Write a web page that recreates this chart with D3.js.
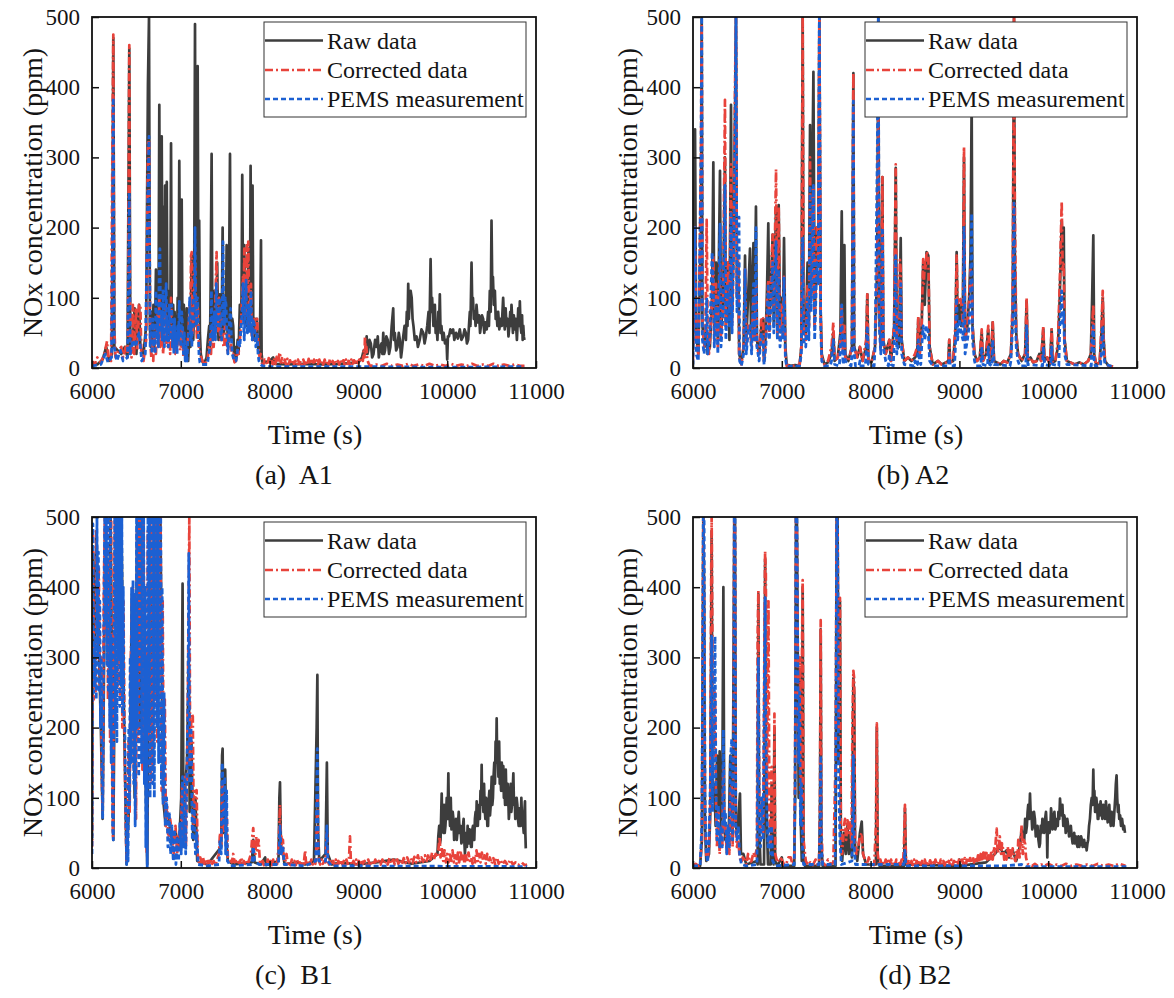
<!DOCTYPE html>
<html><head><meta charset="utf-8">
<script src="https://cdn.jsdelivr.net/npm/d3@7"></script>
<style>
body{margin:0;background:#fff}
text{font-family:"Liberation Serif","Times New Roman",serif;fill:#141414}
</style>
</head><body>
<svg id="chart" width="1174" height="998"></svg>
<script>
const xTicks=[6000,7000,8000,9000,10000,11000];
const yTicks=[0,100,200,300,400,500];
const seriesNames=["Raw data","Corrected data","PEMS measurement"];
const panelLabels=["(a)  A1","(b) A2","(c)  B1","(d) B2"];
const xTitle="Time (s)";
const yTitle="NOx concentration (ppm)";

// ---------- A1 ----------
const a1Raw=[[6000,8],[6060,5],[6120,12],[6160,30],[6190,10],[6225,20],[6240,470],[6252,30],[6290,25],[6330,20],[6370,30],[6400,15],[6420,455],[6432,20],[6460,40],[6480,85],[6500,20],[6530,90],[6545,30],[6580,20],[6610,60],[6630,405],[6642,500],[6652,60],[6662,30],[6672,80],[6682,40],[6692,90],[6702,30],[6712,70],[6720,140],[6728,50],[6738,90],[6748,40],[6758,375],[6766,90],[6774,50],[6785,330],[6795,60],[6803,100],[6810,230],[6817,70],[6823,260],[6833,80],[6842,265],[6850,60],[6858,90],[6866,40],[6875,110],[6882,60],[6890,320],[6898,70],[6906,40],[6914,90],[6922,50],[6930,80],[6940,40],[6948,70],[6956,30],[6965,100],[6974,60],[6983,295],[6992,80],[7000,50],[7010,240],[7018,60],[7026,30],[7034,90],[7042,40],[7050,70],[7058,20],[7067,85],[7075,30],[7083,10],[7092,40],[7100,60],[7108,30],[7115,100],[7123,160],[7130,70],[7140,40],[7150,90],[7160,490],[7168,80],[7176,60],[7183,120],[7190,430],[7198,90],[7207,210],[7215,50],[7225,20],[7240,10],[7260,5],[7290,15],[7305,40],[7320,60],[7328,30],[7335,100],[7347,305],[7355,70],[7363,40],[7372,90],[7380,110],[7388,50],[7395,80],[7403,60],[7410,150],[7418,70],[7425,40],[7433,90],[7440,105],[7448,60],[7455,40],[7463,90],[7471,200],[7478,70],[7486,50],[7493,90],[7500,100],[7508,60],[7516,175],[7524,60],[7532,30],[7540,70],[7554,305],[7562,80],[7570,40],[7580,70],[7590,60],[7600,20],[7610,30],[7620,10],[7630,20],[7640,40],[7650,20],[7665,90],[7675,60],[7684,100],[7692,275],[7700,120],[7708,70],[7715,175],[7722,90],[7730,60],[7740,100],[7750,60],[7760,170],[7768,90],[7778,60],[7786,288],[7794,100],[7802,70],[7808,260],[7816,60],[7825,40],[7835,70],[7845,50],[7855,70],[7862,40],[7870,30],[7880,20],[7890,40],[7897,100],[7903,182],[7910,20],[7920,8],[7940,8],[8000,10],[8040,15],[8060,6],[8200,5],[8400,6],[8600,5],[8800,6],[9000,8],[9040,15],[9060,25],[9080,20],[9093,45],[9102,20],[9110,25],[9125,40],[9140,35],[9155,15],[9170,20],[9188,40],[9205,30],[9218,45],[9230,15],[9245,30],[9260,35],[9270,20],[9280,50],[9290,20],[9300,25],[9315,45],[9330,40],[9345,20],[9360,30],[9375,60],[9392,85],[9400,40],[9410,50],[9425,25],[9440,30],[9455,50],[9467,40],[9480,15],[9490,25],[9505,45],[9520,60],[9535,40],[9545,80],[9553,60],[9561,120],[9568,70],[9575,90],[9588,110],[9600,100],[9610,70],[9620,60],[9635,40],[9655,45],[9670,30],[9690,40],[9710,55],[9730,50],[9745,35],[9760,45],[9775,60],[9790,80],[9800,50],[9813,155],[9822,80],[9830,100],[9845,60],[9861,90],[9870,50],[9880,60],[9890,40],[9900,80],[9908,60],[9917,105],[9925,50],[9935,60],[9948,40],[9960,50],[9975,35],[9992,40],[10000,12],[10008,45],[10020,45],[10035,55],[10050,50],[10067,55],[10080,40],[10100,50],[10120,42],[10142,55],[10160,40],[10180,45],[10195,55],[10210,50],[10222,35],[10236,40],[10245,60],[10255,80],[10262,60],[10274,150],[10282,90],[10290,100],[10300,70],[10310,80],[10320,60],[10330,90],[10345,65],[10360,75],[10370,50],[10380,60],[10392,75],[10405,70],[10418,50],[10430,65],[10445,55],[10461,80],[10470,60],[10480,110],[10490,80],[10499,210],[10507,120],[10515,130],[10525,90],[10537,110],[10546,70],[10555,80],[10565,60],[10574,80],[10587,55],[10600,70],[10615,60],[10630,100],[10640,70],[10648,55],[10658,85],[10668,60],[10680,70],[10690,45],[10700,60],[10710,80],[10717,60],[10724,90],[10732,70],[10740,50],[10750,75],[10762,55],[10772,70],[10785,40],[10792,60],[10800,85],[10810,60],[10818,95],[10826,60],[10835,50],[10843,75],[10850,40],[10857,60],[10863,45],[10870,40]];
const a1Corr=[[6000,10],[6030,5],[6060,15],[6100,8],[6140,20],[6169,38],[6185,15],[6215,10],[6232,360],[6240,475],[6250,60],[6265,15],[6300,25],[6330,30],[6350,15],[6380,30],[6405,20],[6414,300],[6420,460],[6428,40],[6445,15],[6460,90],[6475,20],[6495,85],[6510,25],[6530,90],[6545,90],[6555,20],[6580,10],[6610,40],[6630,320],[6642,325],[6655,40],[6668,15],[6680,30],[6690,10],[6700,60],[6710,25],[6720,20],[6730,50],[6740,80],[6750,30],[6758,100],[6770,30],[6780,50],[6790,70],[6800,20],[6810,40],[6820,60],[6830,90],[6840,30],[6850,30],[6860,50],[6870,60],[6880,20],[6890,100],[6900,40],[6910,30],[6920,60],[6930,50],[6940,20],[6950,20],[6965,45],[6983,60],[6992,25],[7000,30],[7010,55],[7020,50],[7030,15],[7040,20],[7050,30],[7060,15],[7070,25],[7080,40],[7090,60],[7100,90],[7108,50],[7115,160],[7123,165],[7135,50],[7145,80],[7160,150],[7168,70],[7175,60],[7183,40],[7190,90],[7205,30],[7230,15],[7260,5],[7300,10],[7315,30],[7330,40],[7340,20],[7350,60],[7360,30],[7370,30],[7380,60],[7390,100],[7403,165],[7410,60],[7415,80],[7422,50],[7430,100],[7438,60],[7445,40],[7458,70],[7470,60],[7480,30],[7490,30],[7500,60],[7510,50],[7520,30],[7530,20],[7545,50],[7560,40],[7575,20],[7590,20],[7605,8],[7620,10],[7635,25],[7650,20],[7665,40],[7680,70],[7690,100],[7700,130],[7708,90],[7715,170],[7722,70],[7730,80],[7738,120],[7745,175],[7752,110],[7760,180],[7768,90],[7775,60],[7782,100],[7790,120],[7798,50],[7805,40],[7818,60],[7830,70],[7845,50],[7860,70],[7868,40],[7875,30],[7888,15],[7900,20],[7915,6],[7930,5],[7945,12],[7960,10],[7975,4],[7990,14],[8005,6],[8020,12],[8035,5],[8050,14],[8065,6],[8080,16],[8095,7],[8110,20],[8117,22],[8125,8],[8140,14],[8155,6],[8170,12],[8185,5],[8200,13],[8215,6],[8230,11],[8245,5],[8260,12],[8275,6],[8290,10],[8305,4],[8320,12],[8335,6],[8350,10],[8365,5],[8380,12],[8395,6],[8410,11],[8425,5],[8440,13],[8455,6],[8470,10],[8485,5],[8500,12],[8515,6],[8530,11],[8545,5],[8560,12],[8575,6],[8590,10],[8605,5],[8620,12],[8635,6],[8650,11],[8665,5],[8680,13],[8695,6],[8710,10],[8725,5],[8740,12],[8755,6],[8770,10],[8785,5],[8800,12],[8815,6],[8830,11],[8845,5],[8860,12],[8875,6],[8890,10],[8905,5],[8920,12],[8935,6],[8950,11],[8965,5],[8980,13],[8995,7],[9010,12],[9025,8],[9040,15],[9050,10],[9060,25],[9068,15],[9074,45],[9082,20],[9090,30],[9100,12],[9110,8],[9125,4],[9140,3],[9200,5],[9260,3],[9320,6],[9380,3],[9440,5],[9500,3],[9560,6],[9620,3],[9680,5],[9740,3],[9800,6],[9860,3],[9920,5],[9980,3],[10040,6],[10100,3],[10160,5],[10220,3],[10280,6],[10340,3],[10400,5],[10460,3],[10520,6],[10580,3],[10640,5],[10700,3],[10760,5],[10820,3],[10870,3]];
const a1Pems=[[6000,3],[6100,5],[6150,20],[6180,8],[6220,15],[6232,200],[6240,385],[6250,30],[6280,10],[6320,25],[6350,10],[6400,15],[6414,150],[6420,250],[6430,20],[6460,40],[6490,30],[6530,50],[6560,10],[6600,20],[6630,250],[6642,330],[6655,30],[6665,60],[6675,20],[6685,70],[6695,30],[6705,60],[6712,20],[6720,110],[6730,40],[6740,70],[6748,30],[6758,150],[6765,170],[6773,50],[6782,80],[6790,40],[6800,110],[6808,50],[6815,30],[6825,90],[6835,120],[6843,40],[6852,70],[6860,30],[6870,90],[6880,40],[6890,60],[6898,90],[6906,30],[6914,60],[6922,20],[6930,70],[6940,30],[6950,50],[6958,20],[6966,60],[6975,40],[6983,95],[6992,50],[7000,30],[7010,80],[7020,60],[7030,20],[7040,50],[7050,10],[7060,30],[7070,10],[7080,40],[7090,60],[7100,100],[7108,40],[7115,60],[7125,30],[7133,80],[7140,100],[7150,60],[7160,200],[7168,80],[7175,60],[7183,100],[7190,100],[7198,50],[7205,20],[7215,8],[7230,5],[7300,5],[7315,20],[7330,30],[7338,60],[7345,110],[7352,60],[7360,40],[7370,70],[7380,80],[7390,40],[7400,120],[7410,70],[7420,60],[7430,90],[7440,100],[7450,50],[7460,40],[7468,100],[7475,180],[7483,70],[7490,60],[7500,100],[7510,90],[7520,40],[7530,20],[7540,50],[7550,70],[7560,85],[7570,40],[7580,20],[7600,10],[7620,10],[7635,20],[7650,40],[7665,30],[7680,60],[7690,80],[7700,120],[7708,60],[7715,40],[7725,90],[7735,125],[7743,60],[7750,50],[7760,80],[7770,90],[7780,50],[7790,110],[7798,60],[7805,40],[7815,70],[7830,60],[7845,30],[7860,50],[7870,20],[7880,10],[7900,5],[7920,3],[8000,2],[9000,2],[10000,1],[10870,2]];

// ---------- A2 ----------
const a2Raw=[[6000,30],[6010,150],[6023,340],[6035,50],[6060,20],[6090,200],[6098,500],[6106,60],[6130,30],[6150,55],[6165,20],[6190,30],[6215,100],[6229,293],[6240,60],[6260,150],[6280,40],[6304,281],[6315,50],[6340,100],[6360,300],[6370,60],[6395,150],[6410,40],[6428,375],[6440,80],[6460,200],[6484,500],[6495,100],[6510,150],[6520,20],[6545,8],[6570,30],[6586,160],[6600,40],[6620,100],[6642,170],[6655,40],[6681,178],[6692,50],[6709,230],[6720,40],[6745,20],[6770,60],[6790,70],[6800,10],[6820,50],[6835,120],[6848,206],[6860,60],[6880,120],[6897,190],[6910,60],[6935,230],[6950,50],[6965,232],[6980,60],[7000,100],[7012,60],[7025,185],[7040,30],[7055,5],[7100,3],[7150,4],[7200,3],[7220,30],[7235,500],[7245,60],[7270,50],[7290,150],[7305,60],[7318,346],[7330,100],[7356,422],[7370,60],[7395,200],[7410,150],[7423,500],[7438,80],[7450,20],[7480,5],[7520,8],[7560,20],[7580,50],[7595,10],[7630,15],[7660,50],[7675,223],[7688,30],[7705,175],[7715,20],[7750,10],[7790,30],[7806,420],[7815,30],[7850,15],[7880,30],[7910,10],[7950,30],[7963,105],[7975,10],[8010,8],[8050,30],[8075,150],[8087,500],[8097,80],[8115,30],[8133,272],[8143,40],[8170,20],[8211,40],[8230,10],[8265,60],[8283,285],[8295,40],[8320,30],[8339,185],[8350,40],[8380,10],[8420,15],[8460,10],[8500,15],[8525,20],[8537,70],[8550,15],[8575,60],[8592,150],[8610,90],[8630,165],[8650,160],[8665,30],[8700,5],[8760,10],[8800,5],[8850,8],[8875,10],[8886,40],[8895,8],[8930,10],[8955,50],[8969,165],[8980,60],[9000,90],[9020,60],[9040,100],[9052,300],[9064,40],[9090,60],[9110,100],[9125,160],[9138,380],[9148,60],[9170,20],[9200,10],[9230,15],[9251,50],[9265,10],[9300,20],[9325,55],[9340,10],[9360,20],[9375,65],[9390,10],[9420,8],[9460,5],[9500,10],[9540,8],[9580,20],[9600,80],[9615,500],[9625,150],[9640,50],[9660,20],[9700,10],[9740,20],[9757,95],[9770,10],[9800,15],[9830,8],[9870,10],[9900,20],[9920,10],[9945,55],[9958,10],[9990,15],[10020,5],[10039,55],[10050,8],[10080,10],[10110,30],[10130,100],[10152,210],[10163,140],[10175,200],[10185,40],[10210,10],[10250,8],[10300,5],[10350,8],[10400,5],[10450,10],[10480,20],[10495,100],[10508,189],[10518,20],[10540,5],[10580,8],[10600,50],[10614,100],[10625,40],[10640,10],[10680,3],[10730,2]];
const a2Corr=[[6000,10],[6010,100],[6023,200],[6035,40],[6060,20],[6090,300],[6098,490],[6106,60],[6125,30],[6140,50],[6154,211],[6165,50],[6180,20],[6200,60],[6215,100],[6229,160],[6240,40],[6260,120],[6280,30],[6304,150],[6315,40],[6340,100],[6350,250],[6360,382],[6370,60],[6395,150],[6410,80],[6428,290],[6440,60],[6460,200],[6476,430],[6484,500],[6495,100],[6510,160],[6520,15],[6545,5],[6570,30],[6586,140],[6600,30],[6620,60],[6642,60],[6660,30],[6681,100],[6695,40],[6709,120],[6720,30],[6745,20],[6770,73],[6790,70],[6800,8],[6820,40],[6835,100],[6848,125],[6860,50],[6880,130],[6897,190],[6910,80],[6935,283],[6950,50],[6965,230],[6980,40],[7000,90],[7012,50],[7025,130],[7040,20],[7055,3],[7100,4],[7150,3],[7200,5],[7220,30],[7235,500],[7245,60],[7270,40],[7290,120],[7305,60],[7318,300],[7330,100],[7356,260],[7370,60],[7395,200],[7410,150],[7423,500],[7438,80],[7450,15],[7480,5],[7520,10],[7560,30],[7580,65],[7595,10],[7630,15],[7660,40],[7675,90],[7688,20],[7705,60],[7715,15],[7750,10],[7790,30],[7806,420],[7815,30],[7850,15],[7880,30],[7910,10],[7950,40],[7963,105],[7975,10],[8010,8],[8050,30],[8075,150],[8087,360],[8097,80],[8115,30],[8133,272],[8143,40],[8170,20],[8211,40],[8230,10],[8265,60],[8283,290],[8295,40],[8320,60],[8330,154],[8339,140],[8350,40],[8380,10],[8420,15],[8460,10],[8500,20],[8525,30],[8537,73],[8550,15],[8575,60],[8592,155],[8600,120],[8610,150],[8620,140],[8630,166],[8650,160],[8665,30],[8700,5],[8760,10],[8800,5],[8850,8],[8875,10],[8886,40],[8895,8],[8930,10],[8955,60],[8969,160],[8980,90],[9000,100],[9020,95],[9040,60],[9052,315],[9064,40],[9090,60],[9110,100],[9125,140],[9138,120],[9148,60],[9170,20],[9200,10],[9230,15],[9251,55],[9265,10],[9300,20],[9325,60],[9340,10],[9360,20],[9375,65],[9390,10],[9420,8],[9460,5],[9500,10],[9540,8],[9580,20],[9600,100],[9615,500],[9625,220],[9640,50],[9660,20],[9700,10],[9740,20],[9757,100],[9770,10],[9800,15],[9830,8],[9870,10],[9900,20],[9920,10],[9945,60],[9958,10],[9990,15],[10020,5],[10039,55],[10050,8],[10080,10],[10110,40],[10130,120],[10152,237],[10163,140],[10175,150],[10185,40],[10210,10],[10250,8],[10300,5],[10350,8],[10400,5],[10450,10],[10480,20],[10495,60],[10508,90],[10518,20],[10540,5],[10580,8],[10600,60],[10614,110],[10625,40],[10640,10],[10680,3],[10730,2]];
const a2Pems=[[6000,5],[6010,150],[6023,200],[6035,20],[6060,10],[6090,300],[6098,500],[6106,40],[6125,20],[6140,40],[6154,100],[6165,20],[6190,50],[6215,165],[6229,120],[6240,30],[6260,100],[6280,20],[6304,205],[6315,30],[6340,80],[6360,260],[6370,40],[6395,120],[6410,60],[6428,220],[6440,50],[6460,180],[6476,350],[6484,500],[6495,80],[6518,215],[6525,10],[6545,3],[6570,20],[6586,140],[6600,20],[6620,50],[6642,60],[6660,20],[6681,120],[6695,40],[6709,200],[6720,30],[6745,10],[6770,50],[6790,40],[6800,5],[6820,30],[6835,80],[6848,120],[6860,40],[6880,100],[6897,150],[6910,50],[6935,180],[6950,40],[6965,140],[6980,30],[7000,60],[7012,40],[7025,130],[7040,15],[7055,2],[7200,3],[7220,20],[7235,185],[7245,40],[7270,30],[7290,100],[7305,40],[7318,260],[7330,80],[7356,260],[7370,40],[7395,150],[7410,120],[7423,500],[7438,60],[7450,10],[7480,3],[7545,3],[7560,10],[7580,40],[7595,5],[7648,3],[7660,30],[7675,90],[7688,10],[7695,5],[7705,50],[7715,10],[7780,3],[7790,20],[7806,380],[7815,20],[7830,3],[7870,3],[7880,10],[7890,3],[7940,3],[7950,20],[7963,60],[7975,5],[8040,3],[8050,30],[8075,300],[8087,500],[8097,60],[8115,20],[8133,200],[8143,30],[8170,10],[8200,3],[8211,20],[8230,5],[8255,3],[8265,30],[8283,160],[8295,20],[8320,40],[8339,120],[8350,20],[8380,5],[8490,3],[8500,10],[8510,3],[8528,5],[8537,40],[8550,10],[8565,5],[8575,30],[8592,60],[8610,40],[8630,60],[8650,50],[8665,10],[8700,3],[8878,3],[8886,20],[8895,3],[8945,3],[8955,30],[8969,100],[8980,40],[9000,70],[9020,50],[9040,40],[9052,200],[9064,20],[9090,40],[9110,60],[9125,110],[9138,220],[9148,40],[9170,10],[9185,3],[9243,3],[9251,30],[9265,5],[9317,3],[9325,30],[9340,5],[9367,3],[9375,40],[9390,5],[9570,3],[9580,10],[9600,60],[9615,235],[9625,100],[9640,30],[9660,10],[9680,3],[9748,3],[9757,60],[9770,5],[9937,3],[9945,30],[9958,5],[10030,3],[10039,30],[10050,5],[10120,3],[10130,60],[10152,110],[10163,60],[10175,80],[10185,20],[10210,5],[10485,3],[10495,40],[10508,60],[10518,10],[10530,3],[10590,3],[10600,30],[10614,60],[10625,20],[10640,5],[10730,2]];

// ---------- B1 ----------
const b1Raw=[[6000,40],[6010,450],[6030,300],[6050,480],[6080,300],[6100,200],[6120,70],[6150,500],[6180,300],[6210,500],[6240,40],[6270,500],[6300,300],[6330,500],[6360,220],[6390,5],[6420,100],[6450,390],[6480,100],[6510,500],[6540,200],[6570,500],[6600,150],[6622,5],[6650,500],[6680,150],[6710,500],[6740,200],[6770,500],[6800,100],[6830,60],[6870,70],[6900,40],[6940,50],[6980,30],[7005,100],[7020,405],[7030,40],[7050,120],[7070,150],[7090,300],[7100,80],[7120,180],[7140,40],[7165,100],[7185,10],[7300,5],[7455,30],[7465,160],[7471,170],[7480,50],[7500,140],[7512,40],[7530,10],[7600,5],[7800,8],[7816,40],[7830,8],[7900,5],[7950,15],[7960,4],[8100,10],[8110,100],[8117,122],[8128,30],[8150,20],[8170,5],[8300,8],[8400,5],[8500,10],[8530,200],[8538,275],[8546,50],[8560,10],[8630,20],[8645,150],[8655,20],[8700,5],[8800,8],[9000,5],[9200,8],[9400,12],[9600,6],[9800,10],[9890,20],[9900,45],[9910,60],[9918,35],[9925,40],[9938,106],[9945,60],[9950,70],[9958,50],[9965,90],[9972,50],[9980,60],[9988,80],[9995,100],[10004,70],[10013,135],[10020,70],[10025,80],[10032,60],[10040,100],[10048,55],[10055,60],[10062,80],[10070,70],[10078,40],[10085,45],[10092,60],[10100,70],[10108,40],[10115,50],[10122,65],[10130,80],[10140,50],[10150,60],[10160,35],[10170,40],[10178,60],[10185,70],[10192,40],[10200,20],[10208,45],[10215,50],[10222,30],[10230,60],[10238,40],[10245,35],[10252,55],[10260,50],[10268,30],[10276,30],[10283,55],[10290,60],[10298,40],[10305,40],[10312,70],[10320,80],[10326,60],[10332,95],[10338,65],[10345,60],[10352,85],[10360,90],[10367,70],[10375,110],[10382,90],[10388,147],[10394,90],[10400,100],[10408,80],[10415,120],[10422,85],[10430,70],[10438,100],[10445,90],[10452,60],[10460,60],[10467,95],[10475,110],[10482,75],[10490,90],[10496,110],[10501,130],[10508,90],[10515,100],[10522,130],[10530,150],[10538,120],[10545,180],[10551,150],[10557,213],[10563,150],[10570,160],[10577,130],[10585,180],[10592,120],[10600,130],[10607,110],[10615,150],[10623,110],[10632,145],[10638,100],[10645,110],[10652,90],[10660,140],[10667,100],[10675,90],[10681,120],[10688,100],[10694,70],[10700,80],[10707,100],[10715,120],[10722,80],[10730,90],[10737,110],[10745,135],[10752,90],[10760,100],[10767,70],[10775,80],[10782,100],[10790,90],[10797,70],[10805,60],[10812,85],[10820,80],[10827,60],[10835,100],[10842,70],[10850,80],[10856,60],[10862,50],[10869,80],[10876,95],[10880,50],[10885,28]];
const b1Corr=[[6000,30],[6006,260],[6012,480],[6020,240],[6030,310],[6040,250],[6052,480],[6064,320],[6076,430],[6088,260],[6100,300],[6112,120],[6120,80],[6132,380],[6144,500],[6156,330],[6168,500],[6180,240],[6192,440],[6204,180],[6216,500],[6228,120],[6236,45],[6246,280],[6258,500],[6270,220],[6282,500],[6294,260],[6306,500],[6318,240],[6330,500],[6342,200],[6354,380],[6366,190],[6378,70],[6390,8],[6400,60],[6412,180],[6424,80],[6436,280],[6448,380],[6460,400],[6472,140],[6484,370],[6496,70],[6508,480],[6520,180],[6532,500],[6544,280],[6556,500],[6568,140],[6580,500],[6592,130],[6604,350],[6616,20],[6628,480],[6640,180],[6652,500],[6664,120],[6676,500],[6688,140],[6700,500],[6712,240],[6724,500],[6736,180],[6748,500],[6760,280],[6772,500],[6784,110],[6796,380],[6808,90],[6820,240],[6832,60],[6845,90],[6860,40],[6880,70],[6900,50],[6920,20],[6940,60],[6960,20],[6980,50],[7000,30],[7015,120],[7025,40],[7045,130],[7058,30],[7075,180],[7090,400],[7096,500],[7105,150],[7120,220],[7135,216],[7145,60],[7165,110],[7178,111],[7190,20],[7205,8],[7220,15],[7235,5],[7250,15],[7265,6],[7280,12],[7295,4],[7310,10],[7325,5],[7340,12],[7355,6],[7370,10],[7385,4],[7400,8],[7415,14],[7430,20],[7441,50],[7455,30],[7471,120],[7485,50],[7500,100],[7516,80],[7530,15],[7545,6],[7560,10],[7575,8],[7590,20],[7605,8],[7620,10],[7635,5],[7650,12],[7665,6],[7680,15],[7695,5],[7710,10],[7725,6],[7740,10],[7755,5],[7770,12],[7790,20],[7805,45],[7816,57],[7824,30],[7830,40],[7840,20],[7850,45],[7862,25],[7876,40],[7890,10],[7905,5],[7920,10],[7935,4],[7950,8],[7965,4],[7980,12],[7995,5],[8010,10],[8025,4],[8040,12],[8055,5],[8070,10],[8085,6],[8100,30],[8110,60],[8117,90],[8124,40],[8132,45],[8140,20],[8150,40],[8160,15],[8175,8],[8190,20],[8205,6],[8220,8],[8235,4],[8250,12],[8265,5],[8280,10],[8295,4],[8310,12],[8325,5],[8340,8],[8355,4],[8370,10],[8385,6],[8400,25],[8410,8],[8425,4],[8440,10],[8455,5],[8470,12],[8485,5],[8500,10],[8515,6],[8525,20],[8532,60],[8538,100],[8546,30],[8555,10],[8570,5],[8585,12],[8600,6],[8615,10],[8630,8],[8645,50],[8655,10],[8670,5],[8685,12],[8700,5],[8715,10],[8730,4],[8745,12],[8760,5],[8775,10],[8790,4],[8805,12],[8820,5],[8835,10],[8850,4],[8865,12],[8880,6],[8895,15],[8905,45],[8915,10],[8930,4],[8945,10],[8960,5],[8975,12],[8990,5],[9005,10],[9020,4],[9035,12],[9050,6],[9070,10],[9090,4],[9110,12],[9130,5],[9150,10],[9170,4],[9190,12],[9210,6],[9230,10],[9250,5],[9270,12],[9290,6],[9310,10],[9330,5],[9350,14],[9370,6],[9390,12],[9410,5],[9430,15],[9450,6],[9470,12],[9490,5],[9510,14],[9530,7],[9550,15],[9570,8],[9590,14],[9610,7],[9630,16],[9650,8],[9670,18],[9690,8],[9710,15],[9730,9],[9750,18],[9770,10],[9790,20],[9810,10],[9830,22],[9850,12],[9870,20],[9885,15],[9900,25],[9915,45],[9925,15],[9940,30],[9955,10],[9970,25],[9985,8],[10000,20],[10015,8],[10030,22],[10045,10],[10060,25],[10075,8],[10090,18],[10105,6],[10120,22],[10135,8],[10150,25],[10165,10],[10180,20],[10195,6],[10210,18],[10225,8],[10240,22],[10255,10],[10270,15],[10285,6],[10300,18],[10315,8],[10330,25],[10345,10],[10360,20],[10375,8],[10390,22],[10405,10],[10420,18],[10435,6],[10450,20],[10465,8],[10480,15],[10500,6],[10520,14],[10540,5],[10560,15],[10580,6],[10600,12],[10620,5],[10650,10],[10680,4],[10710,12],[10740,5],[10770,8],[10800,4],[10840,8],[10870,4],[10900,5]];
const b1Pems=[[6000,20],[6005,300],[6010,490],[6018,250],[6025,320],[6032,260],[6040,330],[6048,240],[6056,500],[6064,300],[6072,450],[6080,250],[6088,380],[6096,200],[6104,300],[6112,150],[6120,70],[6128,200],[6136,400],[6144,500],[6152,350],[6160,500],[6168,290],[6176,500],[6184,250],[6192,420],[6200,200],[6208,500],[6216,150],[6224,330],[6232,60],[6240,40],[6248,300],[6256,500],[6264,200],[6272,500],[6280,180],[6288,500],[6296,300],[6304,500],[6312,230],[6320,500],[6328,260],[6336,500],[6344,220],[6352,400],[6360,210],[6370,200],[6380,80],[6390,5],[6398,70],[6406,10],[6414,200],[6422,90],[6430,300],[6438,150],[6446,400],[6454,200],[6462,410],[6470,120],[6478,390],[6486,60],[6494,200],[6502,500],[6510,200],[6518,500],[6526,130],[6534,500],[6542,300],[6550,500],[6558,150],[6566,500],[6574,250],[6582,500],[6590,120],[6598,400],[6606,30],[6614,300],[6622,0],[6630,500],[6638,200],[6646,500],[6654,100],[6662,500],[6670,300],[6678,500],[6686,120],[6694,500],[6702,100],[6710,500],[6718,250],[6726,500],[6734,200],[6742,500],[6750,150],[6758,500],[6766,300],[6774,500],[6782,120],[6790,400],[6800,90],[6812,250],[6825,60],[6840,100],[6855,30],[6870,80],[6885,20],[6900,60],[6915,10],[6930,55],[6945,5],[6960,45],[6975,10],[6990,65],[7005,20],[7012,100],[7020,130],[7030,30],[7045,130],[7055,20],[7070,150],[7082,250],[7090,448],[7100,120],[7115,200],[7130,40],[7150,90],[7165,20],[7180,50],[7195,5],[7300,3],[7430,5],[7441,40],[7455,20],[7465,150],[7471,140],[7480,60],[7495,130],[7505,20],[7516,110],[7525,10],[7560,3],[7800,5],[7816,30],[7830,10],[7880,5],[8100,5],[8117,60],[8130,20],[8150,30],[8165,5],[8400,3],[8520,10],[8532,120],[8538,170],[8546,40],[8555,10],[8630,10],[8645,60],[8655,10],[8700,3],[10900,2]];

// ---------- B2 ----------
const b2Raw=[[6000,4],[6080,3],[6100,40],[6108,250],[6116,500],[6125,400],[6135,60],[6150,10],[6180,20],[6195,80],[6210,480],[6220,100],[6240,120],[6255,60],[6270,160],[6285,80],[6300,166],[6315,60],[6330,100],[6342,400],[6352,60],[6365,40],[6380,50],[6400,30],[6420,160],[6436,150],[6446,40],[6465,500],[6473,500],[6482,60],[6500,50],[6515,80],[6529,106],[6540,20],[6567,20],[6600,5],[6720,10],[6728,5],[6736,390],[6745,60],[6760,5],[6800,5],[6812,440],[6820,200],[6832,60],[6845,5],[6875,5],[6886,120],[6897,20],[6908,5],[6917,200],[6925,10],[6950,3],[7000,15],[7010,3],[7140,3],[7150,100],[7160,500],[7170,500],[7180,300],[7190,100],[7205,280],[7215,60],[7225,10],[7235,400],[7245,20],[7260,3],[7420,3],[7430,80],[7438,340],[7446,30],[7460,3],[7605,3],[7618,500],[7628,500],[7640,150],[7655,380],[7665,40],[7680,10],[7700,50],[7720,20],[7740,60],[7755,20],[7770,50],[7790,15],[7806,270],[7815,250],[7825,30],[7850,10],[7880,50],[7900,66],[7915,20],[7950,5],[8060,5],[8070,200],[8080,10],[8100,3],[8377,3],[8387,85],[8397,5],[8990,3],[9000,12],[9010,3],[9300,8],[9400,20],[9455,30],[9495,20],[9530,25],[9560,15],[9600,25],[9640,10],[9680,30],[9701,55],[9712,40],[9720,50],[9730,40],[9740,70],[9750,50],[9760,60],[9768,80],[9775,90],[9785,70],[9795,106],[9803,75],[9810,80],[9820,55],[9830,60],[9840,80],[9850,70],[9860,45],[9870,50],[9880,60],[9890,40],[9900,30],[9908,35],[9916,60],[9925,50],[9935,70],[9945,60],[9955,50],[9965,70],[9975,80],[9985,55],[9990,15],[9995,55],[10005,65],[10015,50],[10025,60],[10032,85],[10040,75],[10050,55],[10060,65],[10070,80],[10080,55],[10090,60],[10100,70],[10108,60],[10115,80],[10125,70],[10133,99],[10142,80],[10150,75],[10160,90],[10170,60],[10180,75],[10189,70],[10197,50],[10205,55],[10215,70],[10225,60],[10235,45],[10245,50],[10255,60],[10265,45],[10275,35],[10285,40],[10293,50],[10300,35],[10310,45],[10320,35],[10330,30],[10340,45],[10350,30],[10360,35],[10370,45],[10380,40],[10388,30],[10395,35],[10405,40],[10415,30],[10425,35],[10433,25],[10442,35],[10450,40],[10460,60],[10470,70],[10480,90],[10490,100],[10500,90],[10508,140],[10514,100],[10520,110],[10528,80],[10535,80],[10542,100],[10550,90],[10558,70],[10565,70],[10572,90],[10580,75],[10590,95],[10600,80],[10610,70],[10620,90],[10630,75],[10640,70],[10650,95],[10660,80],[10670,65],[10680,75],[10688,90],[10695,70],[10705,60],[10715,80],[10725,70],[10735,60],[10745,80],[10755,100],[10762,120],[10770,132],[10777,100],[10785,80],[10792,90],[10800,70],[10810,75],[10820,60],[10832,70],[10845,55],[10855,60],[10865,50]];
const b2Corr=[[6000,3],[6030,6],[6060,3],[6080,4],[6100,40],[6108,200],[6116,500],[6125,350],[6135,80],[6150,15],[6165,10],[6180,30],[6195,90],[6205,420],[6210,500],[6220,300],[6228,200],[6240,160],[6248,250],[6258,100],[6270,30],[6285,80],[6300,20],[6315,50],[6330,30],[6342,140],[6352,50],[6365,60],[6380,20],[6395,50],[6410,20],[6420,100],[6436,120],[6446,30],[6455,90],[6465,500],[6473,480],[6482,50],[6495,30],[6510,40],[6525,15],[6545,8],[6560,15],[6580,12],[6600,5],[6620,20],[6640,8],[6660,10],[6680,22],[6700,15],[6720,30],[6728,330],[6736,395],[6745,100],[6760,40],[6774,100],[6790,50],[6805,330],[6812,451],[6820,420],[6832,100],[6850,380],[6860,80],[6875,30],[6886,144],[6897,50],[6910,60],[6917,220],[6925,20],[6950,8],[6975,15],[7000,12],[7025,5],[7050,6],[7075,15],[7100,15],[7120,5],[7140,10],[7150,150],[7160,500],[7170,480],[7180,300],[7190,150],[7205,300],[7215,100],[7228,320],[7235,410],[7245,40],[7270,10],[7295,4],[7320,8],[7350,4],[7380,12],[7400,5],[7420,10],[7430,100],[7438,353],[7446,60],[7460,8],[7490,4],[7520,12],[7550,5],[7580,8],[7605,150],[7618,500],[7628,480],[7640,200],[7655,385],[7665,60],[7680,20],[7700,60],[7712,70],[7725,40],[7740,68],[7755,50],[7770,65],[7785,30],[7795,200],[7806,281],[7815,270],[7825,40],[7840,20],[7860,30],[7880,45],[7900,50],[7915,20],[7940,10],[7960,5],[7980,15],[8000,5],[8020,8],[8040,4],[8060,60],[8070,206],[8080,20],[8095,6],[8110,12],[8125,5],[8140,10],[8155,4],[8170,12],[8185,6],[8200,10],[8215,4],[8230,12],[8245,5],[8260,10],[8275,5],[8290,12],[8305,6],[8320,10],[8335,5],[8350,12],[8365,6],[8375,30],[8381,60],[8387,90],[8393,40],[8400,10],[8415,5],[8430,12],[8445,5],[8460,10],[8475,4],[8490,12],[8505,5],[8520,10],[8535,4],[8550,11],[8565,5],[8580,10],[8595,4],[8610,12],[8625,5],[8640,10],[8655,4],[8670,11],[8685,5],[8700,10],[8715,4],[8730,12],[8745,5],[8760,10],[8775,4],[8790,12],[8805,5],[8820,10],[8835,4],[8850,11],[8865,5],[8880,10],[8895,4],[8910,12],[8925,5],[8940,10],[8955,5],[8970,12],[8985,6],[9000,14],[9015,6],[9030,12],[9045,6],[9060,14],[9075,6],[9090,15],[9105,7],[9120,14],[9135,7],[9150,16],[9165,8],[9180,15],[9195,8],[9210,18],[9225,8],[9240,20],[9255,10],[9270,22],[9285,10],[9300,25],[9315,12],[9330,20],[9345,10],[9360,25],[9375,12],[9390,30],[9400,20],[9410,40],[9420,56],[9428,30],[9435,20],[9445,35],[9455,45],[9462,25],[9470,20],[9480,35],[9495,25],[9505,12],[9520,20],[9530,12],[9545,30],[9558,15],[9570,25],[9585,12],[9600,28],[9615,15],[9630,10],[9645,25],[9655,15],[9663,40],[9672,20],[9680,15],[9690,40],[9701,61],[9708,30],[9715,20],[9725,40],[9740,35],[9750,15],[9760,10],[9775,5],[9790,5],[9820,3],[9850,6],[9880,3],[9920,5],[9960,3],[10000,6],[10050,3],[10100,5],[10150,3],[10200,6],[10260,3],[10320,5],[10380,3],[10440,5],[10500,3],[10560,6],[10620,3],[10680,5],[10740,3],[10800,6],[10870,3]];
const b2Pems=[[6000,3],[6080,3],[6100,60],[6108,300],[6116,500],[6125,500],[6135,100],[6150,20],[6165,8],[6180,40],[6195,120],[6210,330],[6220,80],[6235,200],[6248,330],[6258,120],[6270,40],[6285,90],[6300,30],[6315,60],[6330,30],[6342,197],[6352,60],[6365,80],[6380,20],[6395,60],[6410,30],[6420,150],[6436,184],[6446,40],[6455,100],[6465,500],[6473,500],[6482,60],[6495,40],[6510,60],[6525,20],[6545,5],[6600,3],[6720,5],[6728,150],[6736,300],[6745,60],[6760,30],[6775,100],[6790,40],[6805,280],[6812,385],[6820,200],[6832,80],[6845,30],[6860,60],[6875,20],[6886,60],[6897,10],[6930,3],[7140,5],[7150,120],[7160,500],[7170,500],[7180,300],[7190,150],[7200,250],[7210,60],[7222,120],[7232,30],[7245,5],[7420,5],[7430,60],[7438,160],[7446,30],[7460,5],[7600,5],[7610,200],[7618,500],[7628,500],[7640,120],[7655,40],[7670,5],[7790,10],[7800,80],[7806,160],[7815,30],[7830,5],[8375,5],[8387,25],[8395,3],[9500,3],[9700,5],[9750,2],[10900,2]];

// ---------- drawing ----------
const svg=d3.select("#chart");
const panels=[
  {left:92,top:17,right:536,bottom:368,series:[a1Raw,a1Corr,a1Pems],label:panelLabels[0],titleDx:-60,labelDx:-20},
  {left:693,top:17,right:1137,bottom:368,series:[a2Raw,a2Corr,a2Pems],label:panelLabels[1],titleDx:-66,labelDx:-2},
  {left:92,top:517,right:536,bottom:868,series:[b1Raw,b1Corr,b1Pems],label:panelLabels[2],titleDx:-60,labelDx:-20},
  {left:693,top:517,right:1137,bottom:868,series:[b2Raw,b2Corr,b2Pems],label:panelLabels[3],titleDx:-66,labelDx:0}
];
const styles=[
  {color:"#3d3d3d",width:2.7,dash:null},
  {color:"#e8433b",width:2.7,dash:"8,3,2,3"},
  {color:"#1c60d2",width:2.8,dash:"5,3"}
];

panels.forEach((p,i)=>{
  const x=d3.scaleLinear().domain([6000,11000]).range([p.left,p.right]);
  const y=d3.scaleLinear().domain([0,500]).range([p.bottom,p.top]);
  const g=svg.append("g");
  const cid="clip"+i;
  svg.append("defs").append("clipPath").attr("id",cid)
    .append("rect").attr("x",p.left).attr("y",p.top).attr("width",p.right-p.left).attr("height",p.bottom-p.top);
  const line=d3.line().x(d=>x(d[0])).y(d=>y(Math.min(d[1],500)));
  const plot=g.append("g").attr("clip-path","url(#"+cid+")");
  p.series.forEach((s,k)=>{
    plot.append("path").datum(s).attr("d",line)
      .attr("fill","none").attr("stroke",styles[k].color).attr("stroke-width",styles[k].width)
      .attr("stroke-linejoin","round")
      .attr("stroke-dasharray",styles[k].dash);
  });
  const ax=g.append("g").attr("transform","translate(0,"+p.bottom+")")
    .call(d3.axisBottom(x).tickValues(xTicks).tickSize(-7).tickSizeOuter(0).tickPadding(15).tickFormat(d3.format("d")));
  const ay=g.append("g").attr("transform","translate("+p.left+",0)")
    .call(d3.axisLeft(y).tickValues(yTicks).tickSize(-7).tickSizeOuter(0).tickPadding(12).tickFormat(d3.format("d")));
  [ax,ay].forEach(a=>{
    a.select(".domain").remove();
    a.selectAll("line").attr("stroke","#111").attr("stroke-width",1.5);
    a.selectAll("text").style("font-size","23px").style("font-family",'"Liberation Serif",serif').attr("fill","#141414");
  });
  g.append("rect").attr("x",p.left).attr("y",p.top).attr("width",p.right-p.left).attr("height",p.bottom-p.top)
    .attr("fill","none").attr("stroke","#111").attr("stroke-width",1.8);
  const lx=p.left+172, ly=p.top+5, lw=262, lh=95;
  const lg=g.append("g");
  lg.append("rect").attr("x",lx).attr("y",ly).attr("width",lw).attr("height",lh)
    .attr("fill","#fff").attr("stroke","#333").attr("stroke-width",1);
  const rows=[18.5,48,77];
  seriesNames.forEach((n,k)=>{
    lg.append("line").attr("x1",lx+1).attr("x2",lx+59).attr("y1",ly+rows[k]).attr("y2",ly+rows[k])
      .attr("stroke",styles[k].color).attr("stroke-width",2.5).attr("stroke-dasharray",styles[k].dash);
    lg.append("text").attr("x",lx+63).attr("y",ly+rows[k]).attr("dy","0.35em")
      .style("font-size","24px").text(n);
  });
  g.append("text").attr("transform","translate("+(p.left+p.titleDx)+","+((p.top+p.bottom)/2)+") rotate(-90)")
    .attr("text-anchor","middle").attr("dy","0.35em").style("font-size","28px").text(yTitle);
  const cx=(p.left+p.right)/2;
  g.append("text").attr("x",cx+1).attr("y",p.bottom+76).attr("text-anchor","middle")
    .style("font-size","28px").text(xTitle);
  g.append("text").attr("x",cx+p.labelDx).attr("y",p.bottom+116).attr("text-anchor","middle")
    .style("font-size","28px").style("white-space","pre").attr("xml:space","preserve").text(p.label);
});
</script>
</body></html>
